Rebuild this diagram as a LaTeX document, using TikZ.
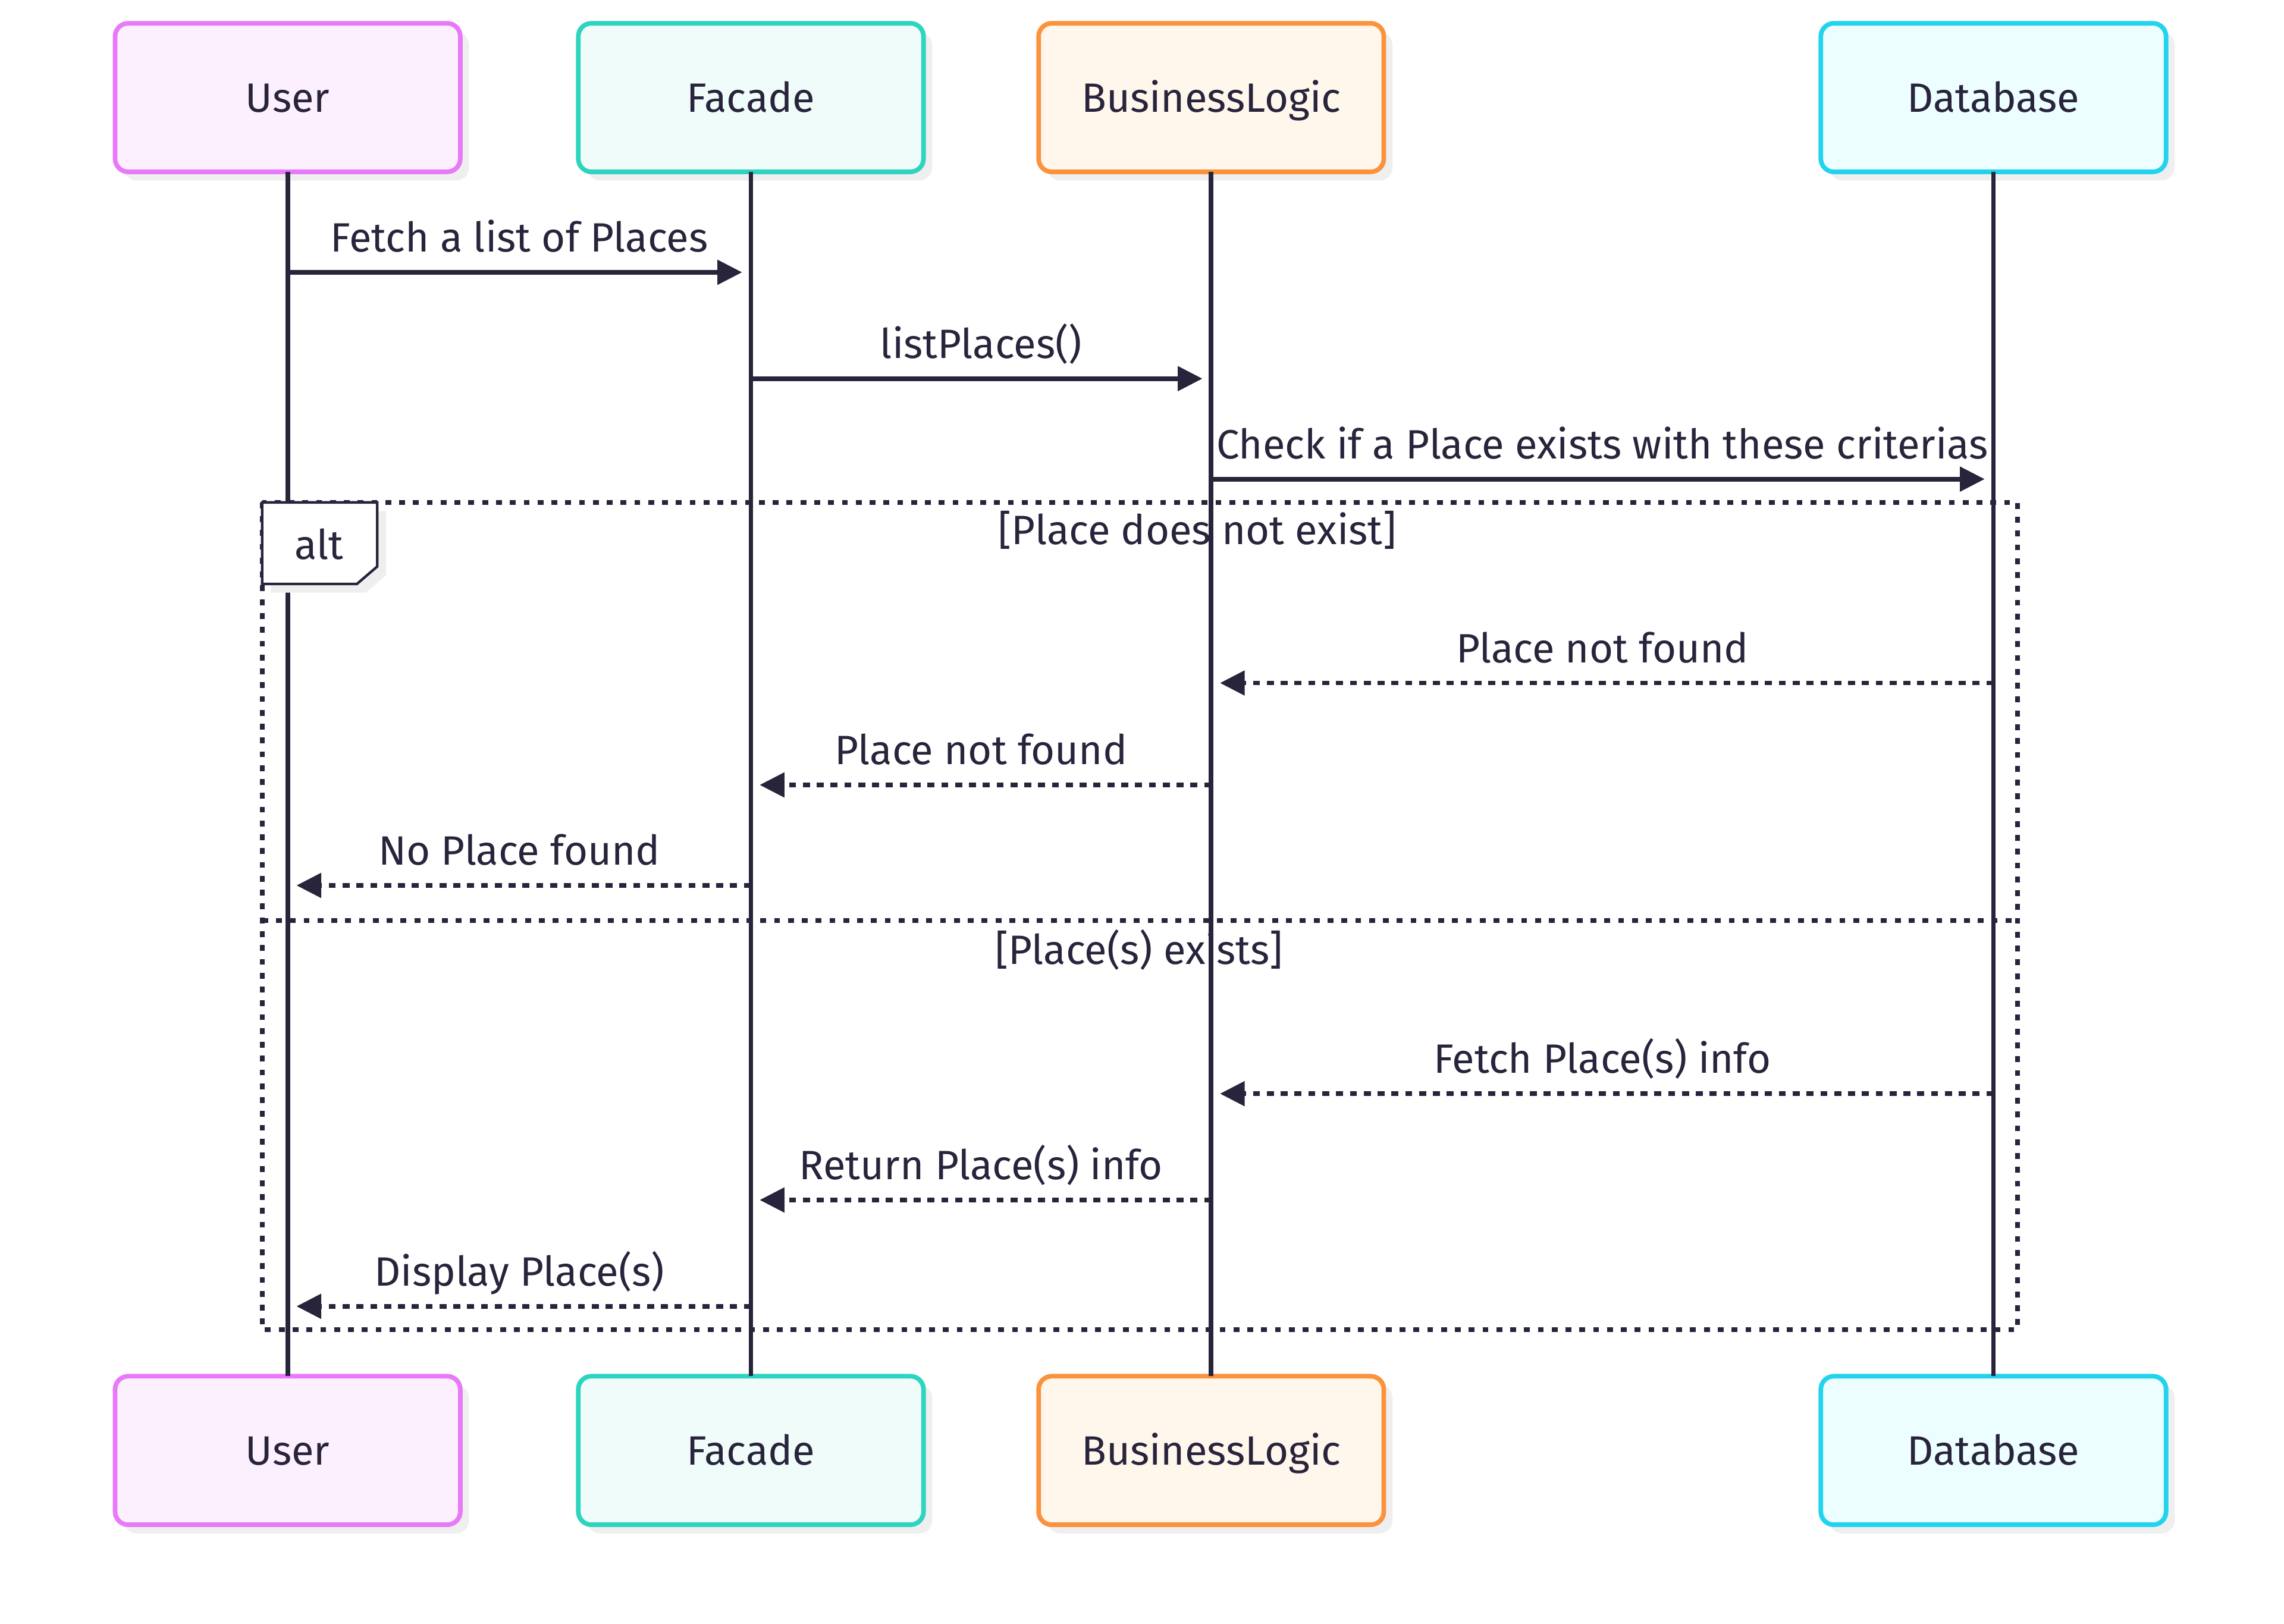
\documentclass[tikz,border=0pt]{standalone}
\usepackage{fontspec}
\setmainfont{Fira Sans}
\usepackage{xcolor}
\usetikzlibrary{arrows.meta,calc,positioning,shadows}

\definecolor{ink}{HTML}{28243B}
\definecolor{shade}{HTML}{EFEFEF}
\definecolor{userD}{HTML}{E879F9}
\definecolor{userF}{HTML}{FDF0FE}
\definecolor{facadeD}{HTML}{2DD4BF}
\definecolor{facadeF}{HTML}{EFFCF9}
\definecolor{logicD}{HTML}{FB923C}
\definecolor{logicF}{HTML}{FFF6EC}
\definecolor{dbD}{HTML}{22D3EE}
\definecolor{dbF}{HTML}{ECFEFF}

\begin{document}
\begin{tikzpicture}[
  node distance=0.8cm,
  every node/.style={text=ink,font=\fontsize{8}{10}\selectfont},
  actor/.style={draw,rounded corners=0.09cm,line width=0.9pt,outer sep=0pt,
    minimum width=2.37cm,minimum height=1.02cm,text height=0.24cm,text depth=0.04cm,
    drop shadow={shadow xshift=0.06cm,shadow yshift=-0.06cm,fill=shade,opacity=1}},
  life/.style={ink,line width=0.9pt},
  call/.style={ink,line width=0.9pt,-{Triangle[length=0.17cm,width=0.165cm]},shorten >=0.06cm},
  reply/.style={call,dash pattern=on 0.048cm off 0.047cm},
  frame/.style={ink,line width=0.9pt,dash pattern=on 0.04cm off 0.055cm},
  lbl/.style={anchor=base,yshift=0.14cm,inner sep=0pt}
]
  \useasboundingbox (0,0) rectangle (15.68,-11.15);

  % participants, top row
  \node[actor,draw=userD,fill=userF] (user) at (1.975,-0.67) {User};
  \node[actor,draw=facadeD,fill=facadeF,right=0.81cm of user] (facade) {Facade};
  \node[actor,draw=logicD,fill=logicF,right=0.79cm of facade] (logic) {BusinessLogic};
  \node[actor,draw=dbD,fill=dbF,right=3cm of logic] (db) {Database};

  % participants, bottom row
  \node[actor,draw=userD,fill=userF,below=8.27cm of user] (userB) {User};
  \node[actor,draw=facadeD,fill=facadeF,below=8.27cm of facade] (facadeB) {Facade};
  \node[actor,draw=logicD,fill=logicF,below=8.27cm of logic] (logicB) {BusinessLogic};
  \node[actor,draw=dbD,fill=dbF,below=8.27cm of db] (dbB) {Database};

  % lifelines
  \foreach \p in {user,facade,logic,db}
    \draw[life] (\p.south) -- (\p B.north);

  % message rows
  \coordinate (m1) at (0,-1.87);
  \coordinate (m2) at (0,-2.60);
  \coordinate (m3) at (0,-3.29);
  \coordinate (m4) at (0,-4.69);
  \coordinate (m5) at (0,-5.39);
  \coordinate (m6) at (0,-6.08);
  \coordinate (m7) at (0,-7.51);
  \coordinate (m8) at (0,-8.24);
  \coordinate (m9) at (0,-8.97);

  % alt frame
  \coordinate (fTL) at (1.80,-3.45);
  \coordinate (fBR) at (13.85,-9.13);
  \coordinate (sep) at (0,-6.32);
  \draw[frame] (fTL) rectangle (fBR);
  \draw[frame] (fTL |- sep) -- (fBR |- sep);
  \draw[ink,line width=0.5pt,fill=white,drop shadow={shadow xshift=0.06cm,shadow yshift=-0.06cm,fill=shade,opacity=1}]
    (fTL) -- ++(0.79,0) -- ++(0,-0.44) -- ++(-0.14,-0.12) -- ++(-0.65,0) -- cycle;
  \node[anchor=base] (alt) at (2.19,-3.84) {alt};
  \node[anchor=base] (g1) at (8.22,-3.74) {[Place does not exist]};
  \node[anchor=base] (g2) at (7.82,-6.62) {[Place(s) exists]};

  % messages
  \draw[call] (user |- m1) -- node[lbl]{Fetch a list of Places} (facade |- m1);
  \draw[call] (facade |- m2) -- node[lbl]{listPlaces()} (logic |- m2);
  \draw[call] (logic |- m3) -- node[lbl]{Check if a Place exists with these criterias} (db |- m3);
  \draw[reply] (db |- m4) -- node[lbl]{Place not found} (logic |- m4);
  \draw[reply] (logic |- m5) -- node[lbl]{Place not found} (facade |- m5);
  \draw[reply] (facade |- m6) -- node[lbl]{No Place found} (user |- m6);
  \draw[reply] (db |- m7) -- node[lbl]{Fetch Place(s) info} (logic |- m7);
  \draw[reply] (logic |- m8) -- node[lbl]{Return Place(s) info} (facade |- m8);
  \draw[reply] (facade |- m9) -- node[lbl]{Display Place(s)} (user |- m9);
\end{tikzpicture}
\end{document}
